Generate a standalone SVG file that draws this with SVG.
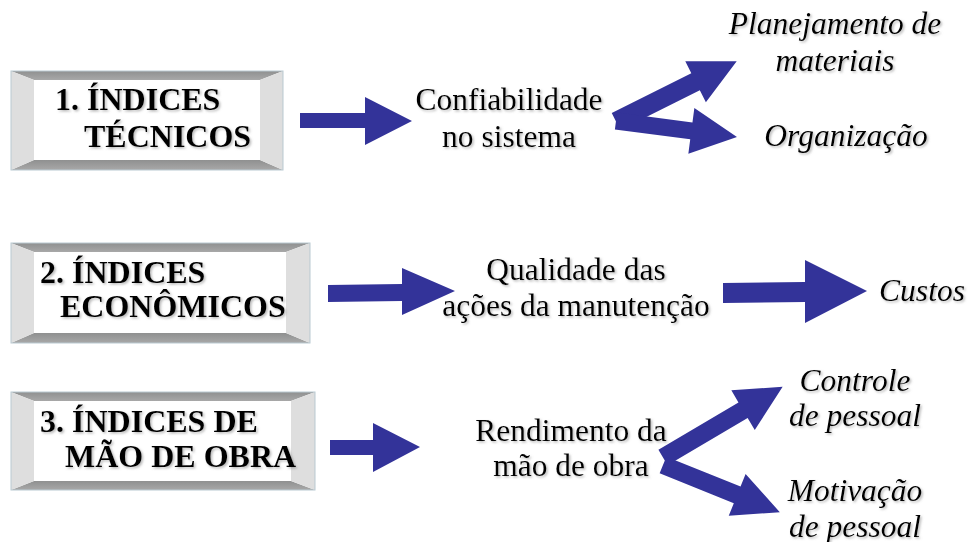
<svg xmlns="http://www.w3.org/2000/svg" width="969" height="542" viewBox="0 0 969 542">
<defs>
<filter id="sh" x="-5%" y="-20%" width="115%" height="150%">
<feDropShadow dx="1.5" dy="1.5" stdDeviation="0.8" flood-color="#808080" flood-opacity="0.55"/>
</filter>
<linearGradient id="tb" x1="0" y1="0" x2="0" y2="1">
<stop offset="0" stop-color="#8f9090"/><stop offset="1" stop-color="#a8a8a8"/>
</linearGradient>
</defs>
<style>
.bev-tb{fill:url(#tb)}
.bev-s{fill:#dedede}
.inner{fill:#ffffff}
.frame{fill:none;stroke:#b9c9d1;stroke-width:1}
.bt{font-family:"Liberation Serif","Times New Roman",serif;font-weight:bold;font-size:32px;fill:#000;filter:url(#sh)}
.mt{font-family:"Liberation Serif","Times New Roman",serif;font-size:31.5px;fill:#000;text-anchor:middle;filter:url(#sh)}
.it{font-family:"Liberation Serif","Times New Roman",serif;font-style:italic;font-size:31.5px;fill:#000;text-anchor:middle;filter:url(#sh)}
.arr{fill:#333399}
</style>
<rect width="969" height="542" fill="#ffffff"/>

<g id="box1">
<polygon class="bev-tb" points="11,71 283,71 260,80 34,80"/>
<polygon class="bev-tb" points="11,170 283,170 260,160 34,160"/>
<polygon class="bev-s" points="11,71 34,80 34,160 11,170"/>
<polygon class="bev-s" points="283,71 260,80 260,160 283,170"/>
<rect class="inner" x="34" y="80" width="226" height="80"/>
<rect class="frame" x="11" y="71" width="272" height="99"/>
<text class="bt" x="55" y="110">1. ÍNDICES</text>
<text class="bt" x="84" y="147">TÉCNICOS</text>
</g>

<g id="box2">
<polygon class="bev-tb" points="11,243 310,243 286,252 34,252"/>
<polygon class="bev-tb" points="11,343 310,343 286,333 34,333"/>
<polygon class="bev-s" points="11,243 34,252 34,333 11,343"/>
<polygon class="bev-s" points="310,243 286,252 286,333 310,343"/>
<rect class="inner" x="34" y="252" width="252" height="81"/>
<rect class="frame" x="11" y="243" width="299" height="100"/>
<text class="bt" x="40" y="283">2. ÍNDICES</text>
<text class="bt" x="60" y="317">ECONÔMICOS</text>
</g>

<g id="box3">
<polygon class="bev-tb" points="11,392 315,392 291,401 34,401"/>
<polygon class="bev-tb" points="11,490 315,490 291,481 34,481"/>
<polygon class="bev-s" points="11,392 34,401 34,481 11,490"/>
<polygon class="bev-s" points="315,392 291,401 291,481 315,490"/>
<rect class="inner" x="34" y="401" width="257" height="80"/>
<rect class="frame" x="11" y="392" width="304" height="98"/>
<text class="bt" x="40" y="432">3. ÍNDICES DE</text>
<text class="bt" x="65" y="467">MÃO DE OBRA</text>
</g>

<g id="mid1">
<text class="mt" x="509" y="110">Confiabilidade</text>
<text class="mt" x="509" y="147">no sistema</text>
</g>
<g id="mid2">
<text class="mt" x="576" y="280">Qualidade das</text>
<text class="mt" x="576" y="316">ações da manutenção</text>
</g>
<g id="mid3">
<text class="mt" x="571" y="441">Rendimento da</text>
<text class="mt" x="571" y="476">mão de obra</text>
</g>

<g id="planejamento">
<text class="it" x="835" y="34">Planejamento de</text>
<text class="it" x="835" y="71">materiais</text>
</g>
<g id="organizacao">
<text class="it" x="846" y="146">Organização</text>
</g>
<g id="custos">
<text class="it" x="922" y="301">Custos</text>
</g>
<g id="controle">
<text class="it" x="855" y="391">Controle</text>
<text class="it" x="855" y="426">de pessoal</text>
</g>
<g id="motivacao">
<text class="it" x="855" y="501">Motivação</text>
<text class="it" x="855" y="537">de pessoal</text>
</g>

<g id="connectors">
<polygon class="arr" points="300,113 365,113 365,97 412,121 365,145 365,128 300,128"/>
<polygon class="arr" transform="translate(616,121.6) rotate(-26.6)" points="0,-9.5 89,-9.5 89,-23 135,0 89,23 89,9.5 0,9.5"/>
<polygon class="arr" transform="translate(616,121) rotate(7.5)" points="0,-8.5 76,-8.5 76,-23 122,0 76,23 76,8.5 0,8.5"/>
<polygon class="arr" points="328,285 402,284 402,268 455,291 402,315 402,301 328,302"/>
<polygon class="arr" points="723,283 805,282 805,260 867,291 805,323 805,302 723,303"/>
<polygon class="arr" points="330,440 373,440 373,423 420,447 373,472 373,455 330,455"/>
<polygon class="arr" transform="translate(663,457.5) rotate(-30.6)" points="0,-9 93,-9 93,-23 139,0 93,23 93,9 0,9"/>
<polygon class="arr" transform="translate(663,465) rotate(22)" points="0,-9 80,-9 80,-22.5 126,0 80,22.5 80,9 0,9"/>
</g>
</svg>
